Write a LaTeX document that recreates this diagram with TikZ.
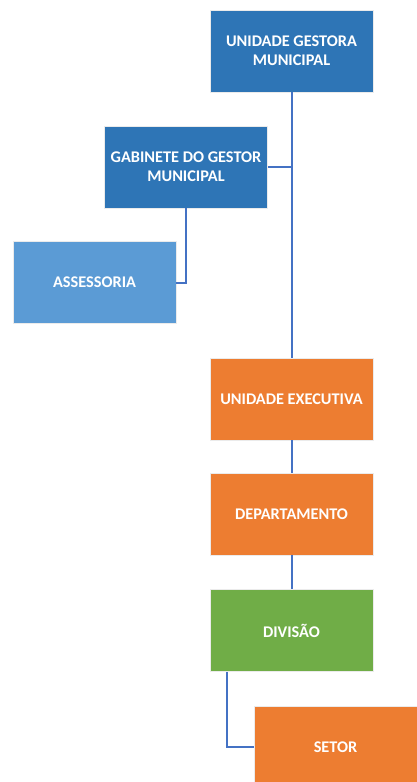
\documentclass[tikz,border=0pt]{standalone}
\usepackage{fontspec}
\setmainfont{Carlito}
\usetikzlibrary{calc}
\definecolor{darkblue}{HTML}{2E75B6}
\definecolor{lightblue}{HTML}{5B9BD5}
\definecolor{orangebox}{HTML}{ED7D31}
\definecolor{greenbox}{HTML}{70AD47}
\definecolor{linkblue}{HTML}{4472C4}
\tikzset{
  unit/.style={draw=white!92!black, line width=0.8pt, minimum width=163pt, minimum height=82pt,
    text=white, font=\bfseries\fontsize{16.3}{19}\selectfont, align=center, inner sep=2pt},
  link/.style={draw=linkblue, line width=2pt}
}
\begin{document}
\begin{tikzpicture}[x=1pt, y=-1pt]
\useasboundingbox (0,0) rectangle (416,782);
\node[unit, fill=darkblue] (ugm) at (291.5,51) {UNIDADE GESTORA\\MUNICIPAL};
\node[unit, fill=darkblue] (gab) at (186,167) {GABINETE DO GESTOR\\MUNICIPAL};
\node[unit, fill=lightblue] (ass) at (94.5,282.5) {ASSESSORIA};
\node[unit, fill=orangebox] (ue) at (291.5,399) {UNIDADE EXECUTIVA};
\node[unit, fill=orangebox] (dep) at (291.5,514) {DEPARTAMENTO};
\node[unit, fill=greenbox] (div) at (291.5,630.5) {DIVISÃO};
\node[unit, fill=orangebox] (set) at (335.5,747) {SETOR};
% connectors
\draw[link] (ugm.south) -- (ue.north);
\draw[link] (gab.east) -- (gab.east -| ugm.south);
\draw[link] (gab.south) |- (ass.east);
\draw[link] (ue.south) -- (dep.north);
\draw[link] (dep.south) -- (div.north);
\draw[link] ($(div.south west)+(17,0)$) |- (set.west);
\end{tikzpicture}
\end{document}
